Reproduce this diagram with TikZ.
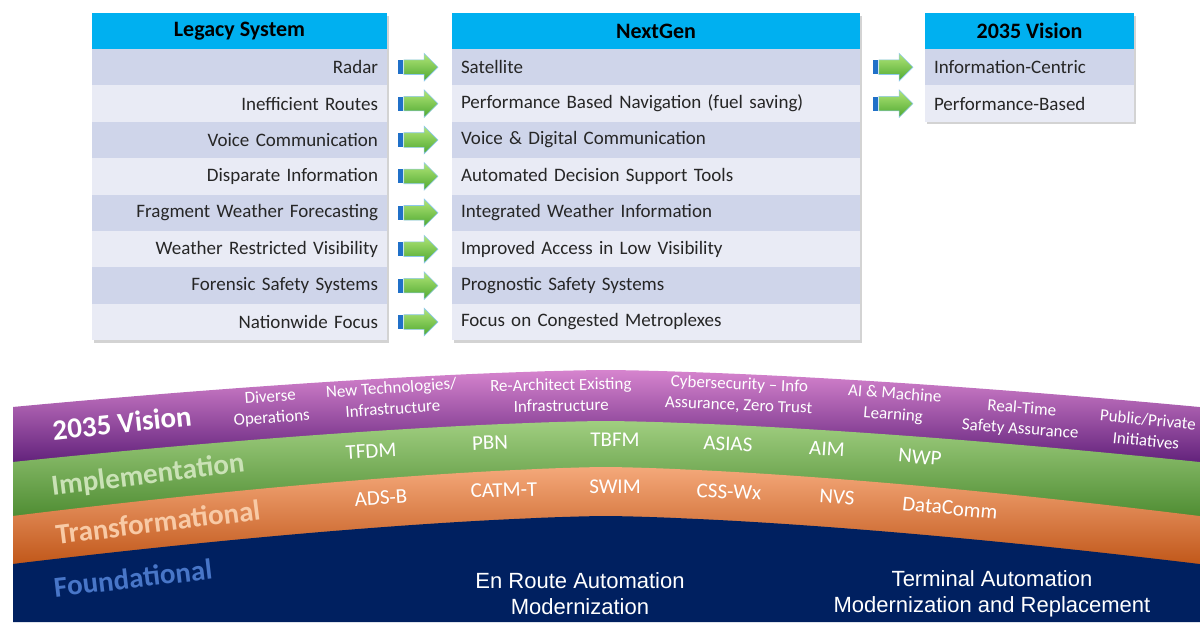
\documentclass[tikz,border=0pt]{standalone}
\usepackage{fontspec}
\setmainfont{Carlito}
\newfontfamily\arialfont{Liberation Sans}
\usetikzlibrary{positioning,shapes.arrows,shadows}

\definecolor{headcyan}{RGB}{0,176,240}
\definecolor{rowdark}{RGB}{207,213,234}
\definecolor{rowlight}{RGB}{233,235,245}
\definecolor{rowtext}{RGB}{38,38,38}
\definecolor{arrowtop}{RGB}{178,230,120}
\definecolor{arrowbot}{RGB}{78,168,48}
\definecolor{arrowbar}{RGB}{32,112,200}
\definecolor{arrowglow}{RGB}{140,200,235}
\definecolor{purpletop}{RGB}{214,132,206}
\definecolor{purplemid}{RGB}{178,44,160}
\definecolor{purplebot}{RGB}{96,32,122}
\definecolor{greentop}{RGB}{160,206,128}
\definecolor{greenmid}{RGB}{116,176,76}
\definecolor{greenbot}{RGB}{78,140,50}
\definecolor{orangetop}{RGB}{244,168,122}
\definecolor{orangemid}{RGB}{236,124,52}
\definecolor{orangebot}{RGB}{192,86,24}
\definecolor{navy}{RGB}{0,32,96}
\definecolor{impltext}{RGB}{202,226,182}
\definecolor{transtext}{RGB}{248,202,166}
\definecolor{foundtext}{RGB}{72,118,200}

% edge of a band: top y + rise*|u|^1.5
\newcommand{\bandedge}[2]{#1+#2*pow(abs((\x-606)/594)+0.001,1.5)}

\begin{document}
\begin{tikzpicture}[x=1pt,y=-1pt]
 \tikzstyle{headbox} = [fill=headcyan,minimum height=36.4,inner sep=0,font=\fontsize{22}{24}\selectfont\bfseries];
 \tikzstyle{rowbox}  = [minimum height=36.4,inner xsep=9,inner ysep=0,text=rowtext,font=\fontsize{19}{21}\selectfont];
 \tikzstyle{arrowbarbox} = [fill=arrowbar,minimum width=4.5pt,minimum height=14pt,inner sep=0];
 \tikzstyle{greenarrow}  = [single arrow,minimum height=34pt,minimum width=0pt,single arrow head extend=6.5pt,
                            inner xsep=0,inner ysep=7pt,top color=arrowtop,bottom color=arrowbot,
                            draw=arrowglow,line width=0.6pt];
 \tikzstyle{tableshadow} = [fill=white,drop shadow={opacity=.35,shadow xshift=1.5pt,shadow yshift=-2.5pt}];
 \tikzstyle{vitem} = [text=white,align=center,inner sep=0,font=\fontsize{17}{21}\selectfont];
 \tikzstyle{bitem} = [text=white,inner sep=0,font=\fontsize{21}{24}\selectfont];
 \tikzstyle{bandlabel} = [inner sep=0,font=\fontsize{29}{30}\selectfont\bfseries];
 \tikzstyle{basetext}  = [text=white,align=center,inner sep=0,font=\arialfont\fontsize{22}{26}\selectfont];

 \useasboundingbox (0,0) rectangle (1200,622);

 %% tables
 \path[tableshadow] (92,13) rectangle (387,340);
 \path[tableshadow] (452,13) rectangle (860,340);
 \path[tableshadow] (925,13) rectangle (1134,121);

 \node[headbox,minimum width=295] (leghead) at (239.5,31) {Legacy System};
 \node[headbox,minimum width=408] (nxthead) at (656,31) {NextGen};
 \node[headbox,minimum width=209] (vishead) at (1029.5,31) {2035 Vision};

 \foreach \i/\c/\t in {1/rowdark/Radar, 2/rowlight/Inefficient Routes, 3/rowdark/Voice Communication,
                       4/rowlight/Disparate Information, 5/rowdark/Fragment Weather Forecasting,
                       6/rowlight/Weather Restricted Visibility, 7/rowdark/Forensic Safety Systems,
                       8/rowlight/Nationwide Focus}
   \node[rowbox,fill=\c,text width=277,align=right] (leg\i) at (239.5,{49+36.4*\i-18.2}) {\t};

 \foreach \i/\c/\t in {1/rowdark/Satellite, 2/rowlight/Performance Based Navigation (fuel saving),
                       3/rowdark/Voice \& Digital Communication, 4/rowlight/Automated Decision Support Tools,
                       5/rowdark/Integrated Weather Information, 6/rowlight/Improved Access in Low Visibility,
                       7/rowdark/Prognostic Safety Systems, 8/rowlight/Focus on Congested Metroplexes}
   \node[rowbox,fill=\c,text width=390,align=left] (nxt\i) at (656,{49+36.4*\i-18.2}) {\t};

 \foreach \i/\c/\t in {1/rowdark/Information-Centric, 2/rowlight/Performance-Based}
   \node[rowbox,fill=\c,text width=191,align=left] (vis\i) at (1029.5,{49+36.4*\i-18.2}) {\t};

 %% arrows between the tables
 \foreach \i in {1,...,8} {
   \node[arrowbarbox,right=11pt of leg\i] (bar\i) {};
   \node[greenarrow,right=0.5pt of bar\i] (arr\i) {};
 }
 \foreach \i in {1,2} {
   \node[arrowbarbox,right=13pt of nxt\i] (vbar\i) {};
   \node[greenarrow,right=0.5pt of vbar\i] (varr\i) {};
 }

 %% bands
 \shade[top color=purpletop,middle color=purplemid,bottom color=purplebot]
   plot[domain=13:1200,samples=100] (\x,{\bandedge{370}{37}})
   -- plot[domain=1200:13,samples=100] (\x,{\bandedge{423}{41}}) -- cycle;
 \shade[top color=greentop,middle color=greenmid,bottom color=greenbot]
   plot[domain=13:1200,samples=100] (\x,{\bandedge{421}{41}})
   -- plot[domain=1200:13,samples=100] (\x,{\bandedge{469}{49}}) -- cycle;
 \shade[top color=orangetop,middle color=orangemid,bottom color=orangebot]
   plot[domain=13:1200,samples=100] (\x,{\bandedge{467}{49}})
   -- plot[domain=1200:13,samples=100] (\x,{\bandedge{518}{48}}) -- cycle;
 \fill[navy]
   plot[domain=13:1200,samples=100] (\x,{\bandedge{516}{48}})
   -- (1200,622) -- (13,622) -- cycle;

 %% band labels
 \node[bandlabel,text=white,rotate=6] (visionlbl) at (122,423) {2035 Vision};
 \node[bandlabel,text=impltext,rotate=7] (impllbl) at (148,476) {Implementation};
 \node[bandlabel,text=transtext,rotate=7] (translbl) at (158,522) {Transformational};
 \node[bandlabel,text=foundtext,rotate=6.5] (foundlbl) at (133,578) {Foundational};

 %% 2035 vision band
 \node[vitem,rotate=4] (v1) at (271,408) {Diverse\\Operations};
 \node[vitem,rotate=4] (v2) at (392,398) {New Technologies/\\Infrastructure};
 \node[vitem,rotate=1] (v3) at (561,395) {Re-Architect Existing\\Infrastructure};
 \node[vitem,rotate=-2.5] (v4) at (739,395) {Cybersecurity -- Info\\Assurance, Zero Trust};
 \node[vitem,rotate=-4.5] (v5) at (894,405) {AI \& Machine\\Learning};
 \node[vitem,rotate=-4.5] (v6) at (1021,419) {Real-Time\\Safety Assurance};
 \node[vitem,rotate=-5.5] (v7) at (1147,430) {Public/Private\\Initiatives};

 %% implementation band
 \node[bitem,rotate=3.5] (i1) at (371,451) {TFDM};
 \node[bitem,rotate=2] (i2) at (490,443) {PBN};
 \node[bitem] (i3) at (615,440) {TBFM};
 \node[bitem,rotate=-2] (i4) at (728,444) {ASIAS};
 \node[bitem,rotate=-3.5] (i5) at (827,449) {AIM};
 \node[bitem,rotate=-5] (i6) at (920,457) {NWP};

 %% transformational band
 \node[bitem,rotate=3.5] (t1) at (381,498) {ADS-B};
 \node[bitem,rotate=1.5] (t2) at (504,490) {CATM-T};
 \node[bitem] (t3) at (615,487) {SWIM};
 \node[bitem,rotate=-2.5] (t4) at (729,492) {CSS-Wx};
 \node[bitem,rotate=-4] (t5) at (837,497) {NVS};
 \node[bitem,rotate=-5.5] (t6) at (950,508) {DataComm};

 %% foundational
 \node[basetext] (enroute) at (580,594) {En Route Automation\\Modernization};
 \node[basetext] (terminal) at (992,594) {Terminal Automation\\Modernization and Replacement};

\end{tikzpicture}
\end{document}
